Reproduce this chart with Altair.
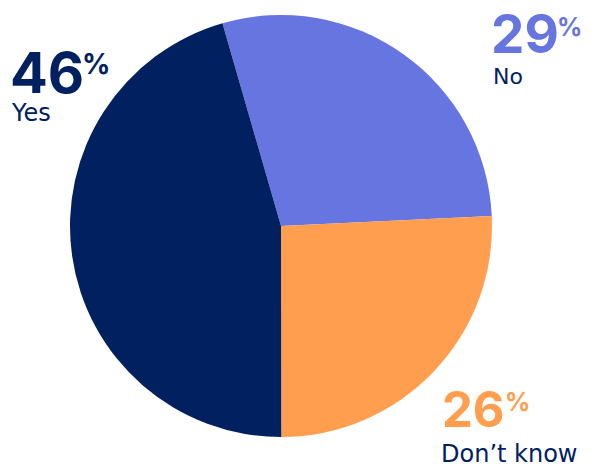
import altair as alt
import pandas as pd

categories = ["No", "Don’t know", "Yes"]
values = [29, 26, 46]
slice_order = [1, 2, 3]
colors = ["#6775e1", "#ff9e4f", "#00205f"]
NAVY = "#00205f"
FONT = "Inter"
LABEL_FONT = "DejaVu Sans"

df = pd.DataFrame({"category": categories, "value": values, "order": slice_order})
base = alt.Chart(df)

pie = base.mark_arc(outerRadius=211).encode(
    theta=alt.Theta("value:Q", stack=True, scale=alt.Scale(range=[-0.281, 6.002])),
    order=alt.Order("order:Q"),
    color=alt.Color("category:N", scale=alt.Scale(domain=categories, range=colors), legend=None),
    x=alt.value(281),
    y=alt.value(226),
)


def label(cat, color, nx, ny, nsize, px, py, psize, lx, ly, lsize):
    b = base.transform_filter(alt.datum.category == cat)
    num = b.mark_text(font=FONT, fontSize=nsize, fontWeight="bold", align="left",
                      baseline="alphabetic", color=color).encode(
        x=alt.value(nx), y=alt.value(ny), text="value:Q")
    pct = b.mark_text(font=FONT, fontSize=psize, fontWeight="bold", align="left",
                      baseline="alphabetic", color=color).encode(
        x=alt.value(px), y=alt.value(py), text=alt.value("%"))
    name = b.mark_text(font=LABEL_FONT, fontSize=lsize, fontWeight="normal", align="left",
                       baseline="alphabetic", color=NAVY).encode(
        x=alt.value(lx), y=alt.value(ly), text="category:N")
    return num + pct + name


lab_yes = label("Yes", NAVY, 10, 93, 56, 82, 74, 28, 12, 121, 24)
lab_no = label("No", colors[0], 491, 53, 53, 557, 36, 25, 493, 84, 22)
lab_dk = label("Don’t know", colors[1], 442, 427, 49, 505, 411, 25, 441, 462, 24)

chart = alt.layer(pie, lab_yes, lab_no, lab_dk).properties(
    width=591, height=468, padding=0, autosize=alt.AutoSizeParams(type="none")
).configure_view(stroke=None)

chart.save("out.html", embed_options={"renderer": "svg", "actions": False})
